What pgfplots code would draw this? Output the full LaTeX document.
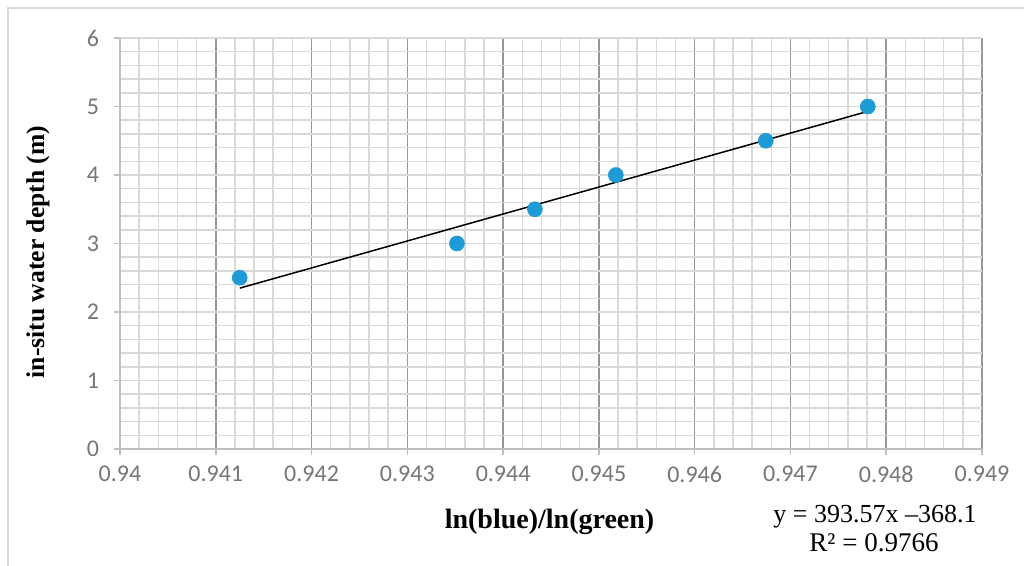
\documentclass[border=0pt]{standalone}
\usepackage{pgfplots}
\pgfplotsset{compat=1.18}
\usepackage{fontspec}
\setmainfont{Liberation Serif}
\newfontfamily\carlito{Carlito}
\definecolor{tickgray}{RGB}{118,118,118}
\definecolor{majgray}{RGB}{150,150,150}
\definecolor{mingray}{RGB}{217,217,217}
\definecolor{axisgray}{RGB}{191,191,191}
\definecolor{ptblue}{RGB}{30,155,215}
\begin{document}
\begin{tikzpicture}
\begin{axis}[
  at={(60pt,58.5pt)}, anchor=south west,
  scale only axis, width=431pt, height=205.5pt,
  xmin=0.94, xmax=0.949, ymin=0, ymax=6,
  axis x line*=bottom, axis y line*=left,
  every outer x axis line/.append style={-},
  every outer y axis line/.append style={-},
  axis line style={-, draw=axisgray, line width=0.75pt},
  xtick={0.940,0.941,0.942,0.943,0.944,0.945,0.946,0.947,0.948,0.949},
  xticklabels={0.94,0.941,0.942,0.943,0.944,0.945,0.946,0.947,0.948,0.949},
  scaled x ticks=false,
  ytick={0,1,2,3,4,5,6},
  minor x tick num=4, minor y tick num=4,
  grid=both,
  major x grid style={draw=majgray, line width=0.75pt},
  minor x grid style={draw=mingray, line width=0.75pt},
  major y grid style={draw=mingray, line width=0.75pt},
  minor y grid style={draw=mingray, line width=0.75pt},
  tick align=outside, major tick length=3pt, minor tick length=0pt,
  tick style={draw=axisgray, line width=0.75pt},
  /pgf/number format/assume math mode=true,
  ticklabel style={font=\carlito\fontsize{12}{14}\selectfont, text=tickgray},
  xticklabel style={yshift=-2pt},
  yticklabel style={xshift=-4pt},
  clip=false,
]
\addplot[only marks, mark=*, mark size=3.7pt, mark options={fill=ptblue, draw=ptblue}] coordinates {
  (0.94125,2.5) (0.943518,3.0) (0.944332,3.5) (0.945177,4.0) (0.946743,4.5) (0.947808,5.0)
};
\addplot[black, line width=0.75pt] coordinates {(0.94125,2.348) (0.947808,4.929)};
\end{axis}
\draw[mingray, line width=1pt] (4pt,0pt) -- (4pt,279pt) -- (512pt,279pt);
\node[rotate=90, font=\bfseries\fontsize{12.8}{15}\selectfont] at (19pt,157pt) {in-situ water depth (m)};
\node[font=\bfseries\fontsize{14}{16}\selectfont] at (274.75pt,22pt) {ln(blue)/ln(green)};
\node[font=\fontsize{13}{15}\selectfont] at (437.5pt,24.5pt) {y = 393.57x –368.1};
\node[font=\fontsize{13.5}{15}\selectfont] at (437pt,11.5pt) {R² = 0.9766};
\pgfresetboundingbox
\path[use as bounding box] (0pt,0pt) rectangle (512pt,283pt);
\end{tikzpicture}
\end{document}
